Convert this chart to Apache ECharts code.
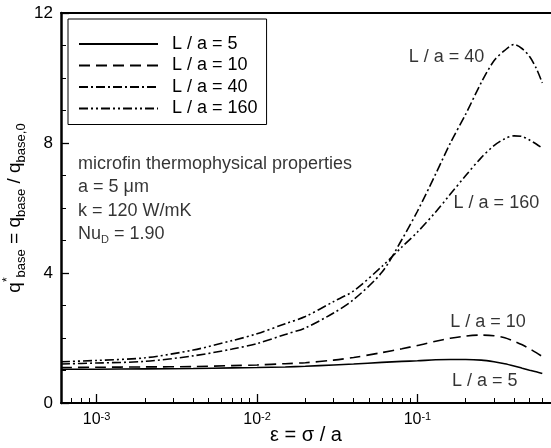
<!DOCTYPE html>
<html>
<head>
<meta charset="utf-8">
<script src="https://cdn.jsdelivr.net/npm/echarts@6/dist/echarts.min.js"></script>
<style>
html,body{margin:0;padding:0;background:#fff;}
#chart{width:551px;height:448px;}
</style>
</head>
<body>
<div id="chart"></div>
<script>
// ---- data ----
const epsilon = [6e-4, 1e-3, 2e-3, 4e-3, 7e-3, 0.01, 0.015, 0.02, 0.03, 0.04, 0.06, 0.08, 0.1, 0.13, 0.16, 0.2, 0.25, 0.3, 0.35, 0.4, 0.45, 0.5, 0.55, 0.6];
const qL5   = [1.04, 1.04, 1.05, 1.06, 1.08, 1.09, 1.11, 1.13, 1.17, 1.20, 1.25, 1.28, 1.30, 1.33, 1.34, 1.34, 1.32, 1.27, 1.21, 1.14, 1.07, 1.01, 0.96, 0.91];
const qL10  = [1.09, 1.10, 1.11, 1.12, 1.15, 1.17, 1.21, 1.24, 1.32, 1.40, 1.55, 1.67, 1.77, 1.90, 1.99, 2.06, 2.09, 2.07, 2.01, 1.90, 1.79, 1.67, 1.55, 1.43];
const qL40  = [1.20, 1.23, 1.28, 1.45, 1.66, 1.83, 2.11, 2.31, 2.77, 3.18, 4.02, 5.03, 5.90, 7.05, 7.99, 8.89, 9.86, 10.53, 10.85, 11.03, 10.90, 10.66, 10.30, 9.85];
const qL160 = [1.27, 1.31, 1.39, 1.63, 1.92, 2.13, 2.44, 2.66, 3.12, 3.45, 4.20, 4.80, 5.26, 5.88, 6.42, 7.00, 7.55, 7.92, 8.13, 8.22, 8.20, 8.09, 7.97, 7.84];
const seriesNames = ['L / a = 5', 'L / a = 10', 'L / a = 40', 'L / a = 160'];
const xMajorTicks = [0.001, 0.01, 0.1];
const xMinorTicks = [7e-4, 8e-4, 9e-4, 2e-3, 3e-3, 4e-3, 5e-3, 6e-3, 7e-3, 8e-3, 9e-3,
                     0.02, 0.03, 0.04, 0.05, 0.06, 0.07, 0.08, 0.09, 0.2, 0.3, 0.4, 0.5, 0.6];
const yTicks = [0, 4, 8, 12];
// curve labels: [epsilon, q, text]
const curveLabels = [
  [0.0883, 10.65, 'L / a = 40'],
  [0.168, 6.15, 'L / a = 160'],
  [0.160, 2.50, 'L / a = 10'],
  [0.164, 0.68, 'L / a = 5']
];
const propsLabel = [7.66e-4, 6.28,
  'microfin thermophysical properties\na = 5 μm\nk = 120 W/mK\nNu{sub|D} = 1.90'];

// ---- chart ----
const FONT = '"Liberation Sans", Arial, Helvetica, sans-serif';
const chart = echarts.init(document.getElementById('chart'), null, {renderer: 'canvas'});
const pairs = v => epsilon.map((x, i) => [x, v[i]]);
const dashes = ['solid', [11, 6], [9, 3, 2, 3], [9, 3, 2, 3, 2, 3]];
const curves = [qL5, qL10, qL40, qL160];

const series = curves.map((v, i) => ({
  name: seriesNames[i],
  type: 'line',
  data: pairs(v),
  smooth: 0.3,
  symbol: 'none',
  showSymbol: false,
  silent: true,
  lineStyle: {color: '#000', width: 1.6, type: dashes[i]},
  itemStyle: {color: '#000'},
  z: 3
}));
series.push({
  name: 'curveLabels',
  type: 'scatter',
  symbolSize: 0,
  silent: true,
  data: curveLabels.map(c => ({value: [c[0], c[1]], name: c[2]})),
  label: {show: true, position: 'right', distance: 0, formatter: '{b}',
           color: '#000', fontSize: 18, fontFamily: FONT}
});
series.push({
  name: 'props',
  type: 'scatter',
  symbolSize: 0,
  silent: true,
  data: [{value: [propsLabel[0], propsLabel[1]], name: 'props'}],
  label: {show: true, position: 'right', distance: 0, formatter: propsLabel[2],
          color: '#000', fontSize: 18, fontFamily: FONT, lineHeight: 23.5,
          rich: {sub: {fontSize: 11, lineHeight: 12, verticalAlign: 'bottom', color: '#000', fontFamily: FONT}}}
});

const xMin = 6e-4, xMax = 0.68;

const option = {
  backgroundColor: '#fff',
  animation: false,
  grid: {left: 61, right: 0, top: 13, bottom: 45, containLabel: false, outerBoundsMode: 'none'},
  legend: {
    data: seriesNames,
    orient: 'vertical',
    left: 68, top: 19,
    padding: [15, 9, 6, 10],
    itemWidth: 79, itemHeight: 14, itemGap: 1.5,
    borderColor: '#000', borderWidth: 1, borderRadius: 0,
    backgroundColor: '#fff',
    selectedMode: false,
    itemStyle: {color: 'rgba(0,0,0,0)', borderWidth: 0, opacity: 0},
    textStyle: {color: '#000', fontSize: 18, fontFamily: FONT, lineHeight: 20, padding: [0, 0, 0, 9]}
  },
  xAxis: [
    {
      type: 'log', min: xMin, max: xMax, logBase: 10,
      position: 'bottom',
      name: 'ε = σ / a', nameLocation: 'middle', nameGap: 22, nameMoveOverlap: false,
      nameTextStyle: {color: '#000', fontSize: 20, fontFamily: FONT, lineHeight: 20},
      axisLine: {show: true, lineStyle: {color: '#000', width: 2}},
      axisTick: {show: true, inside: true, length: 9, customValues: xMajorTicks, lineStyle: {color: '#000', width: 1.3}},
      axisLabel: {
        show: true, margin: 8, customValues: xMajorTicks, fontSize: 16, color: '#000', fontFamily: FONT,
        formatter: v => '{b|10}{s|' + Math.round(Math.log10(v)) + '}',
        rich: {
          b: {fontSize: 16, lineHeight: 18, color: '#000', fontFamily: FONT},
          s: {fontSize: 11, lineHeight: 11, verticalAlign: 'top', color: '#000', fontFamily: FONT}
        }
      },
      splitLine: {show: false}, minorTick: {show: false}, minorSplitLine: {show: false}
    },
    {
      type: 'log', min: xMin, max: xMax, logBase: 10,
      position: 'bottom',
      axisLine: {show: false},
      axisTick: {show: true, inside: true, length: 5, customValues: xMinorTicks, lineStyle: {color: '#000', width: 1}},
      axisLabel: {show: false},
      splitLine: {show: false}
    },
    {
      type: 'value', min: 0, max: 1,
      position: 'top',
      axisLine: {show: true, lineStyle: {color: '#000', width: 2}},
      axisTick: {show: false}, axisLabel: {show: false}, splitLine: {show: false}
    }
  ],
  yAxis: {
    type: 'value', min: 0, max: 12, interval: 4,
    name: '{q|q}{st|*}{sb|base}{q| = q}{sb|base}{q| / q}{sb|base,0}',
    nameLocation: 'middle', nameRotate: 90, nameGap: 33, nameMoveOverlap: false,
    nameTextStyle: {
      color: '#000', fontFamily: FONT,
      rich: {
        q: {fontSize: 19, lineHeight: 26, color: '#000', fontFamily: FONT},
        sb: {fontSize: 13, lineHeight: 13, verticalAlign: 'bottom', color: '#000', fontFamily: FONT},
        st: {fontSize: 12, lineHeight: 12, verticalAlign: 'top', color: '#000', fontFamily: FONT}
      }
    },
    axisLine: {show: true, lineStyle: {color: '#000', width: 2.5}},
    axisTick: {show: true, inside: true, length: 8, lineStyle: {color: '#000', width: 1.3}},
    minorTick: {show: true, splitNumber: 4, length: 5, lineStyle: {color: '#000', width: 1}},
    axisLabel: {show: true, margin: 8, color: '#000', fontSize: 17, fontFamily: FONT,
                customValues: yTicks},
    splitLine: {show: false}, minorSplitLine: {show: false}
  },
  series: series
};
chart.setOption(option);
</script>
</body>
</html>
